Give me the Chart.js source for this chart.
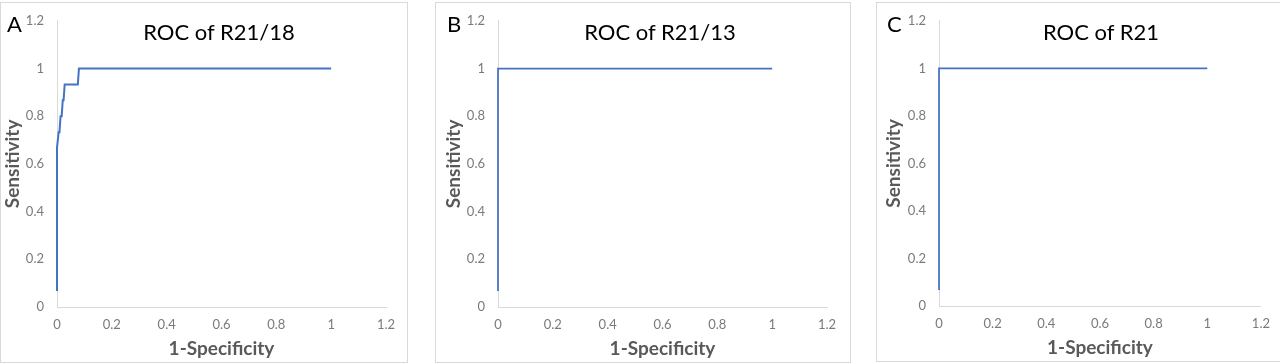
<!DOCTYPE html>
<html>
<head>
<meta charset="utf-8">
<script src="https://cdn.jsdelivr.net/npm/chart.js@4/dist/chart.umd.min.js"></script>
<style>
  body { margin: 0; background: #fff; width: 1280px; height: 364px; position: relative; overflow: hidden; font-family: Lato, "Open Sans", sans-serif; }
  .frame { position: absolute; border: 1px solid #d9d9d9; box-sizing: border-box; }
  .holder { position: absolute; top: 0; height: 364px; }
  .title { position: absolute; font-size: 22px; color: #000; transform: translate(-50%, -50%); white-space: nowrap; }
  .tag { position: absolute; font-size: 22px; color: #000; transform: translateY(-50%); }
</style>
</head>
<body>
<div class="frame" style="left:0;top:2px;width:408px;height:361px"></div>
<div class="frame" style="left:435px;top:2px;width:416px;height:361px"></div>
<div class="frame" style="left:876px;top:2px;width:405px;height:360px"></div>

<div class="holder" style="left:0;width:410px"><canvas id="chartA"></canvas></div>
<div class="holder" style="left:420px;width:432px"><canvas id="chartB"></canvas></div>
<div class="holder" style="left:860px;width:420px"><canvas id="chartC"></canvas></div>

<div class="tag" style="left:7px;top:23px">A</div>
<div class="tag" style="left:447px;top:23px">B</div>
<div class="tag" style="left:887px;top:23px">C</div>
<div class="title" style="left:219px;top:31px">ROC of R21/18</div>
<div class="title" style="left:660px;top:31px">ROC of R21/13</div>
<div class="title" style="left:1101px;top:31px">ROC of R21</div>

<script>
// ROC points (1-specificity, sensitivity)
const fprA = [0, 0, 0.006, 0.009, 0.013, 0.017, 0.021, 0.024, 0.028, 0.076, 0.08, 1];
const tprA = [0.067, 0.667, 0.733, 0.733, 0.8, 0.8, 0.867, 0.867, 0.933, 0.933, 1, 1];
const fprB = [0, 0, 1];
const tprB = [0.067, 1, 1];
const fprC = [0, 0, 1];
const tprC = [0.067, 1, 1];

const axisTicks = [0, 0.2, 0.4, 0.6, 0.8, 1, 1.2];

function makeChart(id, fpr, tpr, lay) {
  const points = fpr.map((x, i) => ({ x: x, y: tpr[i] }));
  return new Chart(document.getElementById(id), {
    type: "line",
    data: {
      datasets: [{
        data: points,
        borderColor: "#4472c4",
        borderWidth: lay.lineWidth,
        pointRadius: 0,
        fill: false,
        tension: 0,
        clip: false,
      }],
    },
    options: {
      responsive: true,
      maintainAspectRatio: false,
      animation: false,
      layout: { padding: { left: 0, top: lay.top, right: lay.right, bottom: 0 } },
      plugins: { legend: { display: false }, tooltip: { enabled: false } },
      scales: {
        x: {
          type: "linear",
          min: 0,
          max: 1.2,
          afterBuildTicks: (s) => { s.ticks = axisTicks.map((v) => ({ value: v })); },
          afterFit: (s) => { s.height = lay.xHeight; },
          grid: { display: false, drawTicks: false },
          border: { display: true, color: "#d9d9d9", width: 1 },
          ticks: { padding: 10, color: "#7a7a7a", font: { family: "Lato", size: 13 }, maxRotation: 0, callback: (v) => String(v) },
          title: {
            display: true,
            text: "1-Specificity",
            color: "#595959",
            font: { family: "Lato", size: 19, weight: "bold" },
            padding: { top: 0, bottom: lay.xTitlePad },
          },
        },
        y: {
          type: "linear",
          min: 0,
          max: 1.2,
          afterBuildTicks: (s) => { s.ticks = axisTicks.map((v) => ({ value: v })); },
          afterFit: (s) => { s.width = lay.yWidth; },
          grid: { display: false, drawTicks: false },
          border: { display: true, color: "#d9d9d9", width: 1 },
          ticks: { padding: 13, color: "#7a7a7a", font: { family: "Lato", size: 13 }, callback: (v) => String(v) },
          title: {
            display: true,
            text: "Sensitivity",
            color: "#595959",
            font: { family: "Lato", size: 19, weight: "bold" },
            padding: { top: lay.yTitlePad, bottom: 0 },
          },
        },
      },
    },
  });
}

makeChart("chartA", fprA, tprA, { top: 15, right: 24, xHeight: 57, yWidth: 57, xTitlePad: 4, yTitlePad: 1, lineWidth: 2 });
makeChart("chartB", fprB, tprB, { top: 15, right: 25, xHeight: 57, yWidth: 78, xTitlePad: 4, yTitlePad: 22, lineWidth: 1.75 });
makeChart("chartC", fprC, tprC, { top: 14, right: 13, xHeight: 58, yWidth: 79, xTitlePad: 5, yTitlePad: 22, lineWidth: 1.75 });
</script>
</body>
</html>
